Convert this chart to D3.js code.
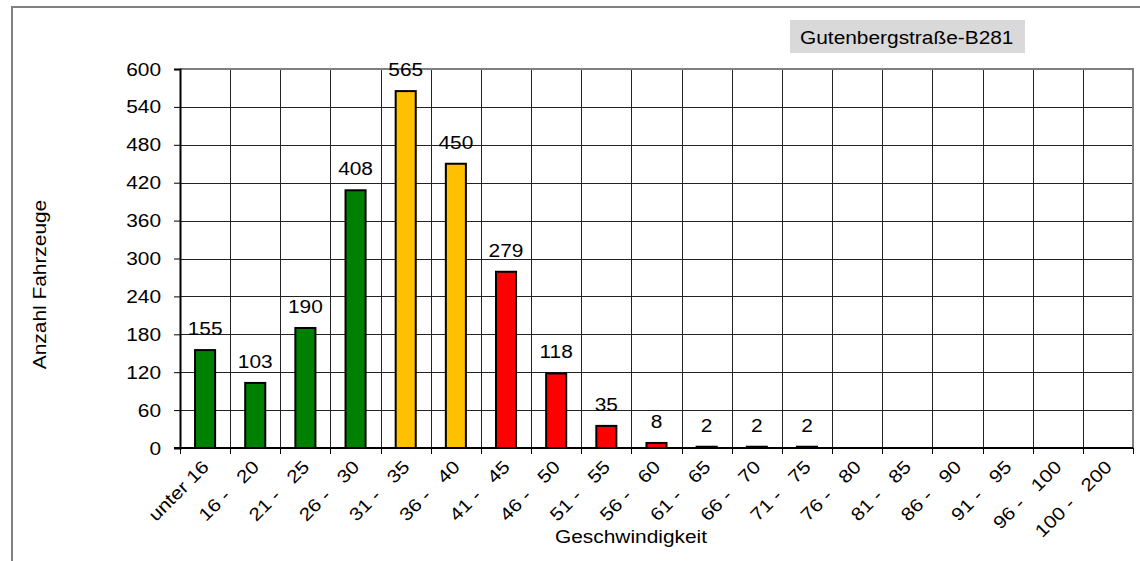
<!DOCTYPE html>
<html>
<head>
<meta charset="utf-8">
<script src="https://cdn.jsdelivr.net/npm/d3@7"></script>
<style>
  body { margin: 0; background: #fff; }
  text { font-family: "Liberation Sans", Arial, sans-serif; fill: #000; }
</style>
</head>
<body>
<div id="chart"></div>
<script>
// speed classes (km/h) and vehicle counts
const categories = ['unter 16', '16 - 20', '21 - 25', '26 - 30', '31 - 35', '36 - 40', '41 - 45',
  '46 - 50', '51 - 55', '56 - 60', '61 - 65', '66 - 70', '71 - 75', '76 - 80', '81 - 85',
  '86 - 90', '91 - 95', '96 - 100', '100 - 200'];
const counts = [155, 103, 190, 408, 565, 450, 279, 118, 35, 8, 2, 2, 2, 0, 0, 0, 0, 0, 0];
const zones = ['ok', 'ok', 'ok', 'ok', 'warn', 'warn', 'over', 'over', 'over', 'over', 'over',
  'over', 'over', 'over', 'over', 'over', 'over', 'over', 'over'];
const yTicks = [0, 60, 120, 180, 240, 300, 360, 420, 480, 540, 600];
const title = 'Gutenbergstraße-B281';

const zoneColor = { ok: '#008000', warn: '#FFC000', over: '#FF0000' };

const W = 1140, H = 561;
const pLeft = 180, pRight = 1133, pTop = 69, pBottom = 448;
const fs = 18;
const sx = 1.16; // the original font is drawn a bit wider than Arial

const svg = d3.select('#chart').append('svg')
  .attr('width', W)
  .attr('height', H);

svg.append('rect').attr('width', W).attr('height', H).attr('fill', '#fff');

// stretched text helper
const label = (g, tx, ty, txt, anchor, rot) => g.append('text')
  .attr('transform', `translate(${tx},${ty})` + (rot ? ` rotate(${rot})` : '') + ` scale(${sx},1)`)
  .attr('text-anchor', anchor)
  .style('font-size', fs + 'px')
  .style('white-space', 'pre')
  .text(txt);

// outer chart border (runs off right and bottom)
svg.append('path')
  .attr('d', `M12,${H + 5} L12,7 L${W + 5},7`)
  .attr('fill', 'none')
  .attr('stroke', '#808080')
  .attr('stroke-width', 2);

const x = d3.scaleBand().domain(categories).range([pLeft, pRight]).padding(0);
const y = d3.scaleLinear().domain([0, 600]).range([pBottom, pTop]);
const bw = x.bandwidth() * 0.4;

// grid
const grid = svg.append('g');
yTicks.forEach(t => {
  grid.append('line')
    .attr('x1', pLeft).attr('x2', pRight)
    .attr('y1', Math.round(y(t)) + 0.5).attr('y2', Math.round(y(t)) + 0.5)
    .attr('stroke', '#222').attr('stroke-width', 1);
});
categories.forEach((c, i) => {
  if (i === 0) return;
  const gx = Math.round(x(c)) + 0.5;
  grid.append('line')
    .attr('x1', gx).attr('x2', gx)
    .attr('y1', pTop).attr('y2', pBottom)
    .attr('stroke', '#222').attr('stroke-width', 1);
});

// plot frame top/right (gray)
svg.append('path')
  .attr('d', `M${pLeft},${pTop} L${pRight},${pTop} L${pRight},${pBottom}`)
  .attr('fill', 'none')
  .attr('stroke', '#808080')
  .attr('stroke-width', 2);

// bars
svg.append('g').selectAll('rect')
  .data(categories.map((c, i) => ({ c, v: counts[i], z: zones[i] })).filter(d => d.v > 0))
  .join('rect')
    .attr('x', d => x(d.c) + (x.bandwidth() - bw) / 2)
    .attr('y', d => y(d.v))
    .attr('width', bw)
    .attr('height', d => y(0) - y(d.v))
    .attr('fill', d => zoneColor[d.z])
    .attr('stroke', '#000')
    .attr('stroke-width', 2);

// value labels
const vals = svg.append('g');
categories.forEach((c, i) => {
  if (counts[i] > 0) label(vals, x(c) + x.bandwidth() / 2, y(counts[i]) - 15, counts[i], 'middle');
});

// y axis
const yAxis = svg.append('g')
  .attr('transform', `translate(${pLeft},0)`)
  .call(d3.axisLeft(y).tickValues(yTicks).tickSize(6).tickFormat(''));
yAxis.select('.domain').attr('stroke', '#000').attr('stroke-width', 2);
yAxis.selectAll('.tick line').attr('stroke', '#000');
const yLab = svg.append('g');
yTicks.forEach(t => label(yLab, pLeft - 19, y(t) + 6.5, t, 'end'));

// x axis: ticks on category boundaries
const xAxisG = svg.append('g');
xAxisG.append('line')
  .attr('x1', pLeft - 6).attr('x2', pRight)
  .attr('y1', pBottom).attr('y2', pBottom)
  .attr('stroke', '#000').attr('stroke-width', 2);
categories.concat([null]).forEach(c => {
  const tx = Math.round(c === null ? pRight : x(c)) + 0.5;
  xAxisG.append('line')
    .attr('x1', tx).attr('x2', tx)
    .attr('y1', pBottom).attr('y2', pBottom + 6)
    .attr('stroke', '#000');
});
categories.forEach(c => {
  label(xAxisG, x(c) + x.bandwidth() / 2 + 5, pBottom + 20, c.replace(' - ', ' -   '), 'end', -45);
});

// axis titles
label(svg, 46, (pTop + pBottom) / 2 + 26, 'Anzahl Fahrzeuge', 'middle', -90);
label(svg, 631, 543, 'Geschwindigkeit', 'middle');

// station label box
svg.append('rect')
  .attr('x', 790).attr('y', 20)
  .attr('width', 235).attr('height', 33)
  .attr('fill', '#d9d9d9');
label(svg, 800, 44, title, 'start');
</script>
</body>
</html>
